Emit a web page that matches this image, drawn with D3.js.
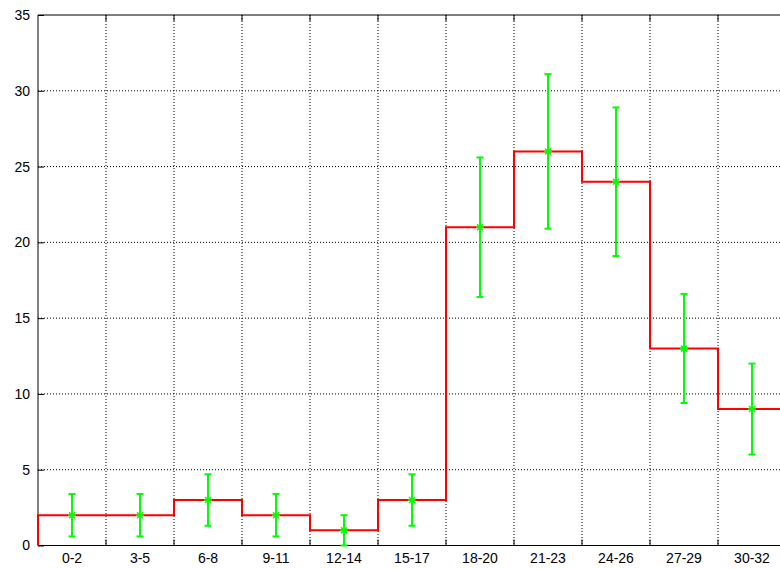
<!DOCTYPE html>
<html><head><meta charset="utf-8">
<script src="https://cdn.jsdelivr.net/npm/d3@7"></script>
<style>body{margin:0;background:#fff}svg{display:block}</style>
</head><body><svg id="c" width="780" height="569"></svg>
<script>
const categories = ["0-2","3-5","6-8","9-11","12-14","15-17","18-20","21-23","24-26","27-29","30-32"];
const values = [2,2,3,2,1,3,21,26,24,13,9];
const errors = [1.4,1.4,1.7,1.4,1.0,1.7,4.6,5.1,4.9,3.6,3.0];
const yTicks = [0,5,10,15,20,25,30,35];

const svg = d3.select("#c");
const L = 38, T = 15, B = 545.5, R = 786;
const x = d3.scaleBand().domain(categories).range([L, R]).padding(0);
const y = d3.scaleLinear().domain([0, 35]).range([B, T]);
const font = "Liberation Sans, Arial, sans-serif";

// grid
const g = svg.append("g");
yTicks.slice(1, -1).forEach(t => {
  g.append("line").attr("x1", L).attr("x2", R).attr("y1", y(t)).attr("y2", y(t))
    .attr("stroke", "#000").attr("stroke-width", 1).attr("stroke-dasharray", "1,2");
});
categories.slice(1).forEach(c => {
  g.append("line").attr("x1", x(c)).attr("x2", x(c)).attr("y1", T).attr("y2", B)
    .attr("stroke", "#000").attr("stroke-width", 1).attr("stroke-dasharray", "1,2");
});

// y axis
const yAxis = svg.append("g").attr("transform", `translate(${L},0)`)
  .call(d3.axisRight(y).tickValues(yTicks).tickSize(6).tickFormat(d3.format("d")));
yAxis.select(".domain").remove();
yAxis.selectAll("text").attr("x", -8).attr("text-anchor", "end")
  .attr("font-family", font).attr("font-size", 14).attr("fill", "#000");
yAxis.selectAll("line").attr("stroke", "#000");

// x axis ticks at boundaries
const bx = svg.append("g");
categories.slice(1).forEach(c => {
  bx.append("line").attr("x1", x(c)).attr("x2", x(c)).attr("y1", B).attr("y2", B - 6).attr("stroke", "#000");
  bx.append("line").attr("x1", x(c)).attr("x2", x(c)).attr("y1", T).attr("y2", T + 6).attr("stroke", "#000");
});
categories.forEach(c => {
  bx.append("text").attr("x", x(c) + x.bandwidth() / 2).attr("y", 563)
    .attr("text-anchor", "middle").attr("font-family", font).attr("font-size", 14).text(c);
});

// border
svg.append("path").attr("d", `M${R},${T}H${L}V${B}H${R}`).attr("fill", "none").attr("stroke", "#000").attr("stroke-width", 1);

// step line
let d = `M${L},${y(0)}`;
categories.forEach((c, i) => {
  d += `L${x(c)},${y(values[i])}L${x(c) + x.bandwidth()},${y(values[i])}`;
});
svg.append("path").attr("d", d).attr("fill", "none").attr("stroke", "#ff0000").attr("stroke-width", 2);

// error bars
const eb = svg.append("g").attr("stroke", "#00ff00").attr("stroke-width", 2).attr("fill", "none");
categories.forEach((c, i) => {
  const cx = x(c) + x.bandwidth() / 2;
  const lo = y(values[i] - errors[i]), hi = y(values[i] + errors[i]);
  eb.append("line").attr("x1", cx).attr("x2", cx).attr("y1", lo).attr("y2", hi);
  eb.append("line").attr("x1", cx - 3.5).attr("x2", cx + 3.5).attr("y1", lo).attr("y2", lo);
  eb.append("line").attr("x1", cx - 3.5).attr("x2", cx + 3.5).attr("y1", hi).attr("y2", hi);
  const cy = y(values[i]), s = 4;
  eb.append("path").attr("d", `M${cx - s},${cy}H${cx + s}M${cx},${cy - s}V${cy + s}M${cx - s + 1},${cy - s + 1}L${cx + s - 1},${cy + s - 1}M${cx - s + 1},${cy + s - 1}L${cx + s - 1},${cy - s + 1}`)
    .attr("stroke-width", 1.5);
});
</script></body></html>
